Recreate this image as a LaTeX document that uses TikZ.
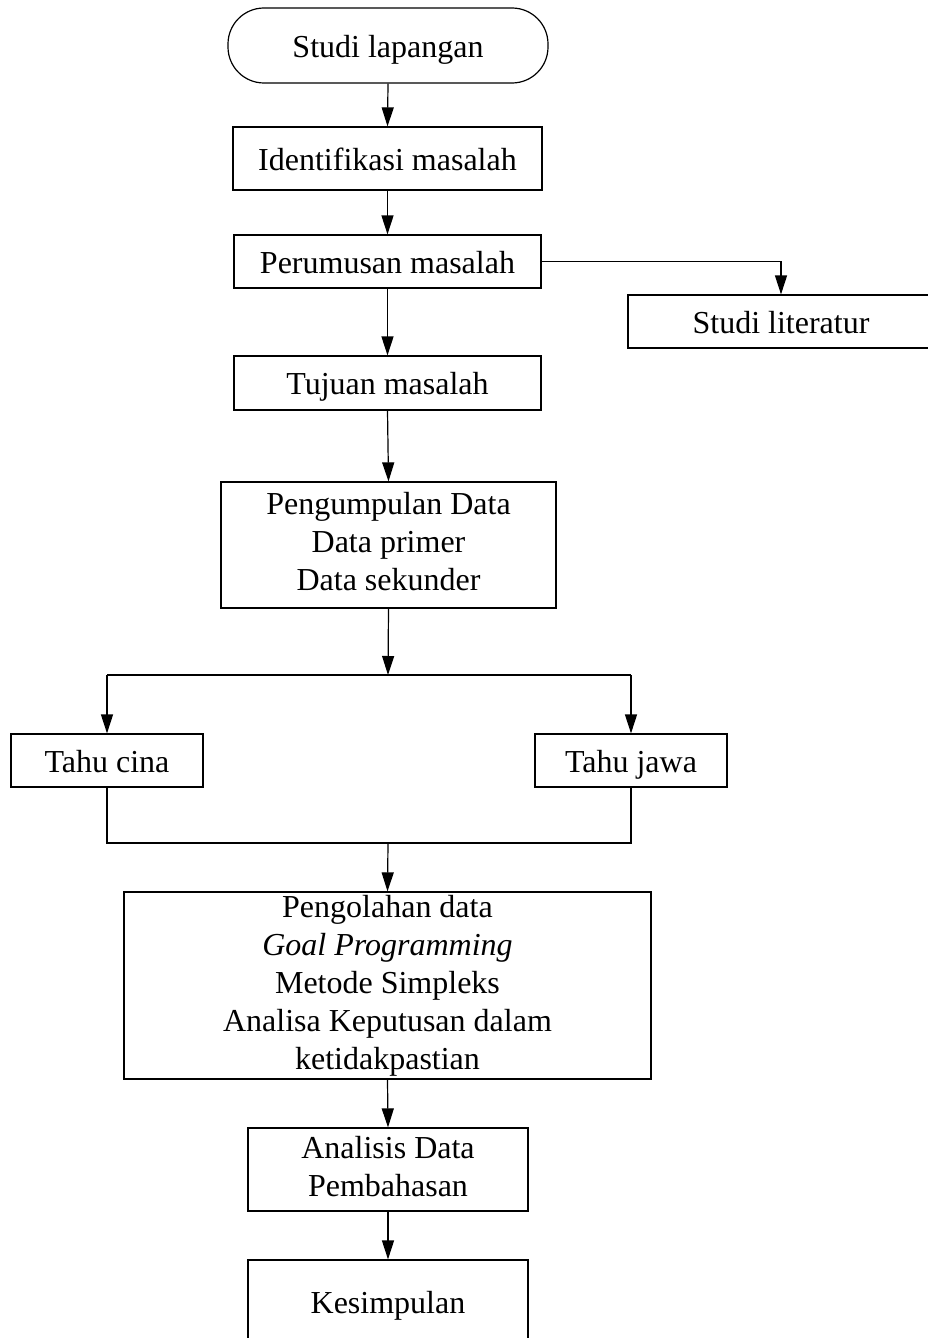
\documentclass[tikz,border=0pt]{standalone}
\usepackage{fontspec}
\setmainfont{Liberation Serif}
\usetikzlibrary{arrows.meta}
\newcommand\boxstrut{\rule[-6.5pt]{0pt}{36.5pt}}
\begin{document}
\begin{tikzpicture}[x=1pt,y=-1pt,
  box/.style={draw,line width=1.2pt,inner sep=0pt,align=center,
    font=\fontsize{32}{38}\selectfont,
    execute at begin node=\boxstrut,execute at end node=\boxstrut},
  conn/.style={line width=1.2pt},
  arr/.style={conn,-{Triangle[length=19pt,width=12pt]}}]
\clip (0,0) rectangle (928,1338);
\node[box,rounded corners=36pt,minimum width=320pt,minimum height=75pt] (sl) at (388,45.5) {Studi lapangan};
\node[box,minimum width=309pt,minimum height=63pt] (im) at (387.5,158.5) {Identifikasi masalah};
\node[box,minimum width=307pt,minimum height=53pt] (pm) at (387.5,261.5) {Perumusan masalah};
\node[box,minimum width=306pt,minimum height=53pt] (lit) at (781,321.5) {Studi literatur};
\node[box,minimum width=307pt,minimum height=54pt] (tm) at (387.5,383) {Tujuan masalah};
\node[box,minimum width=335pt,minimum height=126pt] (pd) at (388.5,545) {Pengumpulan Data\\Data primer\\Data sekunder};
\node[box,minimum width=192pt,minimum height=53pt] (tc) at (107,760.5) {Tahu cina};
\node[box,minimum width=192pt,minimum height=53pt] (tj) at (631,760.5) {Tahu jawa};
\node[box,minimum width=527pt,minimum height=187pt] (po) at (387.5,985.5) {Pengolahan data\\\textit{Goal Programming}\\Metode Simpleks\\Analisa Keputusan dalam\\ketidakpastian};
\node[box,minimum width=280pt,minimum height=83pt] (ad) at (388,1169.5) {Analisis Data\\Pembahasan};
\node[box,minimum width=280pt,minimum height=84pt] (ks) at (388,1302) {Kesimpulan};
\coordinate (j1) at (388,675);
\coordinate (j2) at (388,843);
\draw[arr] (sl.south) -- (im.north);
\draw[arr] (im.south) -- (pm.north);
\draw[arr] (pm.south) -- (tm.north);
\draw[arr] (pm.east) -| (lit.north);
\draw[arr] (tm.south) -- (pd.north);
\draw[arr] (pd.south) -- (j1);
\draw[conn] (tc.north |- j1) -- (tj.north |- j1);
\draw[arr] (tc.north |- j1) -- (tc.north);
\draw[arr] (tj.north |- j1) -- (tj.north);
\draw[conn] (tc.south) |- (j2) -| (tj.south);
\draw[arr] (j2) -- (po.north);
\draw[arr] (po.south) -- (ad.north);
\draw[arr] (ad.south) -- (ks.north);
\end{tikzpicture}
\end{document}
